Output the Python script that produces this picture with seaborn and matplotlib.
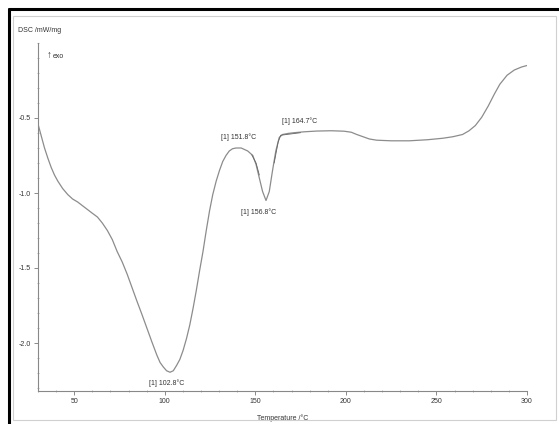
import matplotlib
matplotlib.use("Agg")
import matplotlib.pyplot as plt
from matplotlib.lines import Line2D
from matplotlib.patches import Rectangle
from matplotlib.ticker import MultipleLocator
import seaborn as sns
import pandas as pd

# DSC trace: temperature (°C) and heat flow (mW/mg)
temperature = [30, 31.8, 33.6, 35.5, 37.3, 39.1, 40.9, 43.6, 46.4, 49.1, 51.9,
               54.6, 57.3, 60.0, 62.8, 65.5, 68.3, 71.0, 73.7, 76.5, 79.2,
               81.9, 84.6, 87.4, 90.1, 92.8, 95.6, 97.4, 99.2, 101.0, 102.9,
               104.7, 106.5, 108.3, 110.1, 112.0, 113.8, 115.6, 117.4, 119.2,
               121.1, 122.9, 124.7, 126.5, 128.4, 130.2, 132.0, 133.8, 135.6,
               137.4, 139.3, 142.2, 145.8, 148.6, 150.4, 152.2, 154.0, 155.9,
               157.7, 159.5, 161.3, 163.2, 165.0, 168.0, 171.4, 177.0, 184.0,
               192.0, 199.0, 203.0, 206.0, 209.5, 213.0, 217.0, 225.0, 235.0,
               245.0, 253.5, 259.0, 264.4, 268.0, 271.5, 275.0, 278.6, 282.0,
               285.0, 289.0, 293.0, 297.0, 300.0]
heat_flow = [-0.54, -0.62, -0.70, -0.77, -0.83, -0.88, -0.92, -0.97, -1.01,
             -1.04, -1.06, -1.085, -1.11, -1.135, -1.16, -1.20, -1.25, -1.31,
             -1.39, -1.46, -1.54, -1.63, -1.72, -1.81, -1.90, -1.99, -2.08,
             -2.13, -2.16, -2.185, -2.195, -2.185, -2.15, -2.11, -2.05, -1.97,
             -1.88, -1.77, -1.65, -1.52, -1.39, -1.25, -1.12, -1.01, -0.92,
             -0.85, -0.79, -0.75, -0.72, -0.705, -0.70, -0.70, -0.72, -0.75,
             -0.81, -0.90, -0.99, -1.05, -0.99, -0.85, -0.72, -0.63, -0.61,
             -0.603, -0.598, -0.592, -0.587, -0.585, -0.588, -0.595, -0.61,
             -0.625, -0.64, -0.648, -0.652, -0.652, -0.645, -0.635, -0.625,
             -0.61, -0.585, -0.55, -0.495, -0.42, -0.34, -0.275, -0.215,
             -0.18, -0.16, -0.15]

# Evaluation tangents drawn over the small melting peak
tangent_a_t = [148.0, 150.4, 152.2]
tangent_a_y = [-0.745, -0.80, -0.88]
tangent_b_t = [160.4, 162.6, 164.0, 175.0]
tangent_b_y = [-0.80, -0.66, -0.615, -0.598]

# Peak annotations: label text, anchor temperature, anchor value
peak_labels = ["[1] 102.8°C", "[1] 151.8°C", "[1] 156.8°C", "[1] 164.7°C"]
peak_text_t = [101.0, 141.0, 152.0, 174.5]
peak_text_y = [-2.268, -0.63, -1.13, -0.52]

x_ticks = [50, 100, 150, 200, 250, 300]
y_ticks = [-2.0, -1.5, -1.0, -0.5]

sns.set_theme(style="white")
plt.rcParams["font.family"] = ["Liberation Sans", "DejaVu Sans"]
plt.rcParams["axes.unicode_minus"] = False

fig = plt.figure(figsize=(5.59, 4.24), dpi=100)
fig.patch.set_facecolor("white")

# Page framing: heavy border on top/left, light inner rectangle
fig.add_artist(Rectangle((13 / 559, 1 - 420 / 424), 543 / 559, 404 / 424,
                         transform=fig.transFigure, fill=False,
                         edgecolor="#d0d0d0", lw=0.8))
fig.add_artist(Line2D([9 / 559, 9 / 559], [0, 1 - 9 / 424],
                      transform=fig.transFigure, color="black", lw=2.2))
fig.add_artist(Line2D([9 / 559, 1.0], [1 - 9 / 424, 1 - 9 / 424],
                      transform=fig.transFigure, color="black", lw=2.2))

ax = fig.add_axes([38 / 559, 1 - 391 / 424, (527 - 38) / 559, (391 - 43) / 424])

df = pd.DataFrame({"Temperature": temperature, "DSC": heat_flow})
sns.lineplot(data=df, x="Temperature", y="DSC", ax=ax, color="#8c8c8c",
             lw=0.9, sort=False)
sns.lineplot(x=tangent_a_t, y=tangent_a_y, ax=ax, color="#666666", lw=0.6,
             sort=False)
sns.lineplot(x=tangent_b_t, y=tangent_b_y, ax=ax, color="#666666", lw=0.6,
             sort=False)

for txt, tx, ty in zip(peak_labels, peak_text_t, peak_text_y):
    ax.text(tx, ty, txt, fontsize=5, ha="center", va="center", color="#333333")

ax.set_xlim(30, 300)
ax.set_ylim(-2.32, 0.0)
ax.set_xticks(x_ticks)
ax.set_yticks(y_ticks)
ax.set_xticklabels([str(v) for v in x_ticks])
ax.set_yticklabels([f"{v:.1f}" for v in y_ticks])
ax.xaxis.set_minor_locator(MultipleLocator(10))
ax.yaxis.set_minor_locator(MultipleLocator(0.1))
ax.tick_params(axis="both", which="major", labelsize=5, length=3, width=0.6,
               color="#777777", labelcolor="#333333", pad=2,
               bottom=True, left=True, direction="out")
ax.tick_params(axis="both", which="minor", length=2, width=0.5,
               color="#999999", bottom=True, left=True, direction="inout")

for side in ("top", "right"):
    ax.spines[side].set_visible(False)
for side in ("left", "bottom"):
    ax.spines[side].set_color("#888888")
    ax.spines[side].set_linewidth(0.8)

ax.set_xlabel("Temperature /°C", fontsize=5, color="#333333", labelpad=7)
ax.set_ylabel("")

fig.text(18 / 559, 1 - 30 / 424, "DSC /mW/mg", fontsize=5, color="#333333",
         ha="left", va="center")
fig.text(47 / 559, 1 - 55 / 424, "↑", fontsize=7, color="#333333",
         ha="left", va="center")
fig.text(53 / 559, 1 - 56 / 424, "exo", fontsize=5, color="#333333",
         ha="left", va="center")

fig.savefig("out.png", dpi=100, facecolor="white")
